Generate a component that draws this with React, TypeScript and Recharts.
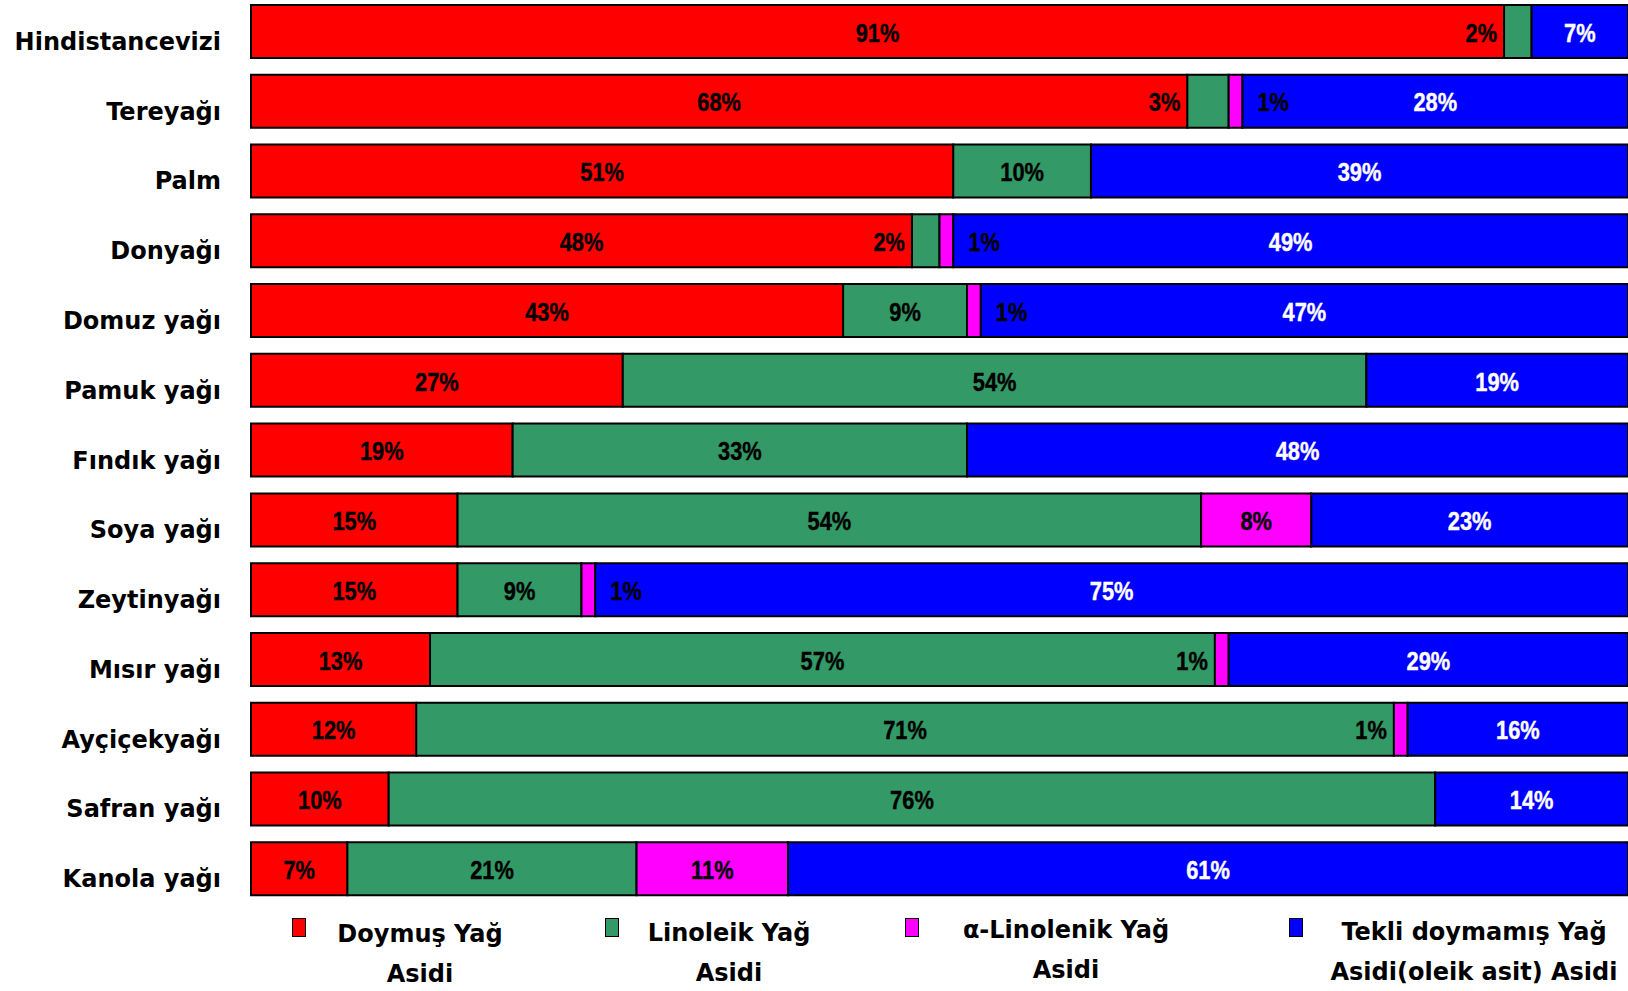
import { BarChart, Bar, XAxis, YAxis, Legend, LabelList } from 'recharts';

const categories = [
  'Hindistancevizi',
  'Tereyağı',
  'Palm',
  'Donyağı',
  'Domuz yağı',
  'Pamuk yağı',
  'Fındık yağı',
  'Soya yağı',
  'Zeytinyağı',
  'Mısır yağı',
  'Ayçiçekyağı',
  'Safran yağı',
  'Kanola yağı',
];
const doymus = [91, 68, 51, 48, 43, 27, 19, 15, 15, 13, 12, 10, 7];
const linoleik = [2, 3, 10, 2, 9, 54, 33, 54, 9, 57, 71, 76, 21];
const alfaLinolenik = [0, 1, 0, 1, 1, 0, 0, 8, 1, 1, 1, 0, 11];
const tekli = [7, 28, 39, 49, 47, 19, 48, 23, 75, 29, 16, 14, 61];

const seriesNames = [
  ['Doymuş Yağ', 'Asidi'],
  ['Linoleik Yağ', 'Asidi'],
  ['α-Linolenik Yağ', 'Asidi'],
  ['Tekli doymamış Yağ', 'Asidi(oleik asit) Asidi'],
];

const data = categories.map((name, i) => ({
  name,
  doymus: doymus[i],
  linoleik: linoleik[i],
  alfa: alfaLinolenik[i],
  tekli: tekli[i],
}));

const series = [
  { key: 'doymus', color: '#FF0000', text: '#000' },
  { key: 'linoleik', color: '#339966', text: '#000' },
  { key: 'alfa', color: '#FF00FF', text: '#000' },
  { key: 'tekli', color: '#0000FF', text: '#fff' },
];

// small slices get their label pushed beside the segment
const sideLabels: Record<string, Record<string, 'left' | 'right'>> = {
  linoleik: { Hindistancevizi: 'left', 'Tereyağı': 'left', 'Donyağı': 'left' },
  alfa: {
    'Tereyağı': 'right',
    'Donyağı': 'right',
    'Domuz yağı': 'right',
    'Zeytinyağı': 'right',
    'Mısır yağı': 'left',
    'Ayçiçekyağı': 'left',
  },
};

// legend layout (x of marker, x of text centre, y shift)
const legendPos = [
  { marker: 292, text: 420, dy: 0 },
  { marker: 605, text: 729, dy: -1 },
  { marker: 905, text: 1066, dy: -4 },
  { marker: 1289, text: 1474, dy: -2 },
];

const labelFont = '"Liberation Sans", Arial, sans-serif';
const catFont = '"Comic Sans MS", "DejaVu Sans", sans-serif';

const makeLabel = (key: string, textColor: string) => (props: any) => {
  const { x, y, width, height, value } = props;
  if (!value) return null;
  const v = value[key];
  if (!v) return null;
  const side = sideLabels[key]?.[value.name];
  let tx = x + width / 2;
  let anchor: 'middle' | 'start' | 'end' = 'middle';
  let fill = textColor;
  if (side === 'left') {
    tx = x - 7;
    anchor = 'end';
    fill = '#000';
  } else if (side === 'right') {
    tx = x + width + 15;
    anchor = 'start';
    fill = '#000';
  }
  // narrow the glyphs a bit, the original uses a condensed face
  return (
    <g transform={`translate(${tx},${y + height / 2 + 1}) scale(0.84,1)`}>
      <text
        x={0}
        y={0}
        textAnchor={anchor}
        dominantBaseline="central"
        fill={fill}
        stroke={fill}
        strokeWidth={0.4}
        fontFamily={labelFont}
        fontWeight="bold"
        fontSize={26}
      >
        {v}%
      </text>
    </g>
  );
};

const CategoryTick = ({ x, y, payload }: any) => (
  <text
    x={x}
    y={y + 10}
    textAnchor="end"
    dominantBaseline="central"
    fill="#000"
    fontFamily={catFont}
    fontWeight="bold"
    fontSize={24}
  >
    {payload.value}
  </text>
);

const CustomLegend = () => (
  <div style={{ position: 'relative', width: 1628, height: 87, fontFamily: catFont, fontWeight: 'bold', fontSize: 24 }}>
    {series.map((s, i) => (
      <div key={s.key}>
        <div
          style={{
            position: 'absolute',
            left: legendPos[i].marker,
            top: 14,
            width: 12,
            height: 17,
            background: s.color,
            border: '1.5px solid #000',
          }}
        />
        {seriesNames[i].map((line, j) => (
          <div
            key={j}
            style={{
              position: 'absolute',
              left: legendPos[i].text - 200,
              width: 400,
              top: 12 + j * 40 + legendPos[i].dy,
              textAlign: 'center',
              lineHeight: '36px',
              whiteSpace: 'nowrap',
            }}
          >
            {line}
          </div>
        ))}
      </div>
    ))}
  </div>
);

export default function App() {
  return (
    <div style={{ position: 'absolute', left: 0, top: -3, width: 1628, height: 994, background: '#fff', overflow: 'hidden' }}>
      <BarChart
        width={1628}
        height={994}
        data={data}
        layout="vertical"
        barSize={53}
        margin={{ top: 0, right: 0, left: 0, bottom: 0 }}
      >
        <XAxis type="number" domain={[0, 100]} hide />
        <YAxis
          type="category"
          dataKey="name"
          width={251}
          axisLine={false}
          tickLine={false}
          tickSize={0}
          tickMargin={30}
          interval={0}
          tick={<CategoryTick />}
        />
        <Legend
          verticalAlign="bottom"
          content={<CustomLegend />}
          wrapperStyle={{ left: 0, width: 1628, height: 87 }}
        />
        {series.map((s) => (
          <Bar
            key={s.key}
            dataKey={s.key}
            stackId="a"
            fill={s.color}
            stroke="#000"
            strokeWidth={2}
            isAnimationActive={false}
          >
            <LabelList dataKey={(entry: any) => entry} content={makeLabel(s.key, s.text)} />
          </Bar>
        ))}
      </BarChart>
    </div>
  );
}
